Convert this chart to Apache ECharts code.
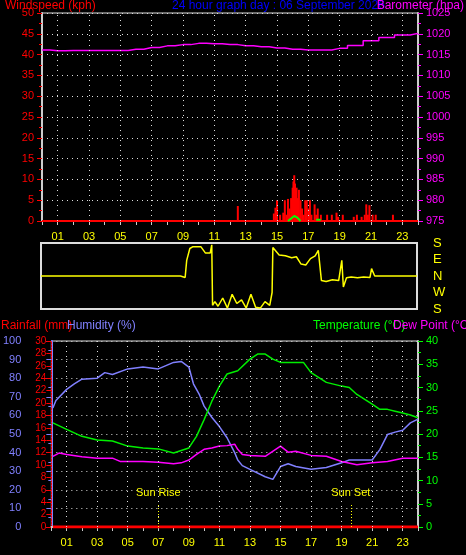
<!DOCTYPE html>
<html><head><meta charset="utf-8">
<script src="https://cdn.jsdelivr.net/npm/echarts@6/dist/echarts.min.js"></script>
<style>html,body{margin:0;background:#000}#c{width:466px;height:555px}</style>
</head><body><div id="c"></div>
<script>
// ---- data ----
const baroHours = [0,1,2,3,4,5,6,7,8,9,10,11,12,13,14,15,16,17,18,19,20,21,22,23,24];
const baroVals = [1016.1,1015.9,1016,1016,1016,1016,1016.3,1016.7,1017.1,1017.4,1017.7,1017.6,1017.4,1017.1,1016.9,1016.6,1016.3,1016.1,1016.1,1016.5,1017.2,1018.3,1019.1,1019.7,1020.1];
const gustHours = [12.5,14.8,14.9,15.0,15.2,15.4,15.5,15.6,15.7,15.8,15.9,16.0,16.05,16.1,16.15,16.2,16.25,16.3,16.4,16.5,16.6,16.7,16.8,16.9,17.0,17.1,17.2,17.4,17.5,17.6,17.8,18.2,18.5,18.8,18.9,19.2,19.9,20.1,20.4,20.6,20.7,20.8,20.9,21.1,21.3,22.4];
const gustVals = [3.6,1.8,3.2,5,1.5,2,5,1.5,5.3,3,5.5,8,9.5,11,9,7,8,5.5,7.5,5,3,1.5,5,5,3,5,1.5,4,1.5,3,1.5,1.5,1.5,2,1,1.5,1,1.5,1,1.5,4,1.5,3.8,1.5,1.5,1.5];
const avgHours = [15.7,15.9,16.1,16.3,16.5,16.6,17.5,17.6,17.8];
const avgVals = [0,0.6,1.2,0.8,0,null,0.3,0.4,0.3];
const dirHours = [0,8.9,9.0,9.2,9.3,9.5,9.7,10.2,10.5,10.8,10.9,10.95,11.1,11.3,11.6,11.9,12.2,12.5,12.8,13.1,13.4,13.7,14.0,14.3,14.6,14.75,14.8,15.2,15.6,16.0,16.3,16.6,16.9,17.2,17.5,17.7,17.9,18.2,18.6,19.0,19.2,19.3,19.5,19.8,20.2,20.6,21.0,21.1,21.3,24];
const dirVals = [0,0,-10,-8,85,150,160,160,125,125,170,-160,-140,-165,-120,-175,-100,-150,-130,-175,-100,-170,-175,-140,-160,-90,155,115,110,100,105,65,60,95,110,140,-25,-30,-20,-25,85,-60,-10,-5,-10,-5,-8,40,0,0];
const humHours = [0.1,0.3,1,1.5,2,3,3.5,4,5,6,7,8,8.5,9,9.3,9.7,10,10.5,11,11.5,12,12.2,12.5,13,14,14.5,15,15.5,16,17,18,19,19.5,20,21,21.5,22,22.5,23,23.5,24];
const humVals = [64,68,74,77,79.5,80,83,82,85,86,85,88.5,89,86,77,71,65,59,54,48,40,36,33,31,27,25.6,32.5,34,32.5,31,32,34.5,36,36,36,41.6,49.7,51,52,56,58];
const tempHours = [0.1,1,2,3,4,5,6,7,8,9,9.5,10,10.5,11,11.5,12.2,13,13.5,14,14.5,15,16,16.5,17,18,19,19.5,20,21,21.5,22,22.5,23,23.5,24];
const tempVals = [22.4,21,19.5,18.7,18.5,17.4,17,16.8,15.9,17,19.5,23.1,27,30.3,32.9,33.6,36.1,37.2,37.2,36.1,35.4,35.4,35.4,33.2,31.1,30.3,30,28.5,26.4,25.3,25.3,24.9,24.5,24.1,23.5];
const dewHours = [0.1,0.5,1,2,3,4,4.5,5,6,7,8,8.5,9,9.5,10,10.5,11,11.5,12,12.2,12.5,13,14,15,15.5,16,17,18,19,20,21,22,23,24];
const dewVals = [15.2,15.9,15.6,15.1,14.8,14.8,14.1,14.1,14.1,13.9,13.6,13.8,14.4,15.6,16.7,17,17.4,17.5,17.8,16.7,15.6,15.4,15.2,17.4,16.1,16.3,15.4,15.2,14.1,13.4,13.8,14.1,14.8,14.8];
const rainHours = [0.1,24];
const rainVals = [0,0];
const oddHours = [1,3,5,7,9,11,13,15,17,19,21,23];
const sunRise = 7.0, sunSet = 19.6;
const dirLabels = {'180':'S','90':'E','0':'N','-90':'W','-180':'S'};

const pairs = (h, v) => h.map((x, i) => [x, v[i]]);
const F = 'Liberation Sans';
const dot = {color:'#ddd', type:[1,4], width:1};
const vMark = {silent:true, symbol:'none', lineStyle:dot, label:{show:false}, data:oddHours.map(h => ({xAxis:h}))};
const xBase = (gi, showLabels) => ({
  type:'value', gridIndex:gi, min:0, max:24, interval:1,
  axisLine:{show:gi!==1, lineStyle:{color:'#ccc', width:2}},
  axisTick:{show:gi!==1, lineStyle:{color:'#ccc'}, length:4},
  axisLabel:{show:showLabels, color:'#ffff00', fontFamily:F, fontSize:11, margin:10,
    formatter:v => (v%2===1) ? String(v).padStart(2,'0') : ''},
  splitLine:{show:false}
});
const num = v => String(v);

const chart = echarts.init(document.getElementById('c'));
chart.setOption({
  backgroundColor:'#000',
  animation:false,
  textStyle:{fontFamily:F},
  grid:[
    {left:42, right:48, top:13, height:208, show:true, borderColor:'#ddd', borderWidth:1, backgroundColor:'#000'},
    {left:41, right:49, top:243, height:66, show:true, borderColor:'#ddd', borderWidth:2, backgroundColor:'#000'},
    {left:43, right:48, top:341, height:186, show:true, borderColor:'#ddd', borderWidth:1, backgroundColor:'#000'}
  ],
  graphic:[
    {type:'text', left:5, top:0, style:{text:'Windspeed (kph)', fill:'#ff0000', font:'12px '+F}},
    {type:'text', left:172, top:0, style:{text:'24 hour graph day : 06 September 2026', fill:'#0000ff', font:'12px '+F}},
    {type:'text', right:2, top:0, style:{text:'Barometer (hpa)', fill:'#ff00ff', font:'12px '+F}},
    {type:'text', left:1, top:320, style:{text:'Rainfall (mm)', fill:'#ff0000', font:'12px '+F}},
    {type:'text', left:67, top:320, style:{text:'Humidity (%)', fill:'#8080ff', font:'12px '+F}},
    {type:'text', left:313, top:320, style:{text:'Temperature (°C)', fill:'#00ff00', font:'12px '+F}},
    {type:'text', left:393, top:320, style:{text:'Dew Point (°C)', fill:'#ff00ff', font:'12px '+F}}
  ],
  xAxis:[xBase(0,true), xBase(1,false), xBase(2,true)],
  yAxis:[
    {type:'value', gridIndex:0, min:0, max:50, interval:5, position:'left',
      axisLine:{show:true, lineStyle:{color:'#ccc', width:2}},
      axisTick:{show:true, lineStyle:{color:'#ff0000'}}, minorTick:{show:true, splitNumber:2, lineStyle:{color:'#ff0000'}},
      axisLabel:{color:'#ff0000', fontFamily:F, fontSize:11, formatter:num},
      splitLine:{show:true, lineStyle:dot}},
    {type:'value', gridIndex:0, min:975, max:1025, interval:5, position:'right',
      axisLine:{show:true, lineStyle:{color:'#ccc', width:2}},
      axisTick:{show:true, lineStyle:{color:'#ff00ff'}}, minorTick:{show:true, splitNumber:2, lineStyle:{color:'#ff00ff'}},
      axisLabel:{color:'#ff00ff', fontFamily:F, fontSize:11, formatter:num},
      splitLine:{show:false}},
    {type:'value', gridIndex:1, min:-180, max:180, interval:90, position:'right',
      axisLine:{show:false}, axisTick:{show:false}, splitLine:{show:false},
      axisLabel:{color:'#ffff00', fontFamily:F, fontSize:13, margin:16, formatter:v => dirLabels[String(v)]}},
    {type:'value', gridIndex:2, min:0, max:100, interval:10, position:'left', offset:22,
      axisLine:{show:true, lineStyle:{color:'#8080ff', width:2}},
      axisTick:{show:true, lineStyle:{color:'#8080ff'}}, minorTick:{show:true, splitNumber:2, lineStyle:{color:'#8080ff'}},
      axisLabel:{color:'#8080ff', fontFamily:F, fontSize:11, formatter:num},
      splitLine:{show:true, lineStyle:dot}},
    {type:'value', gridIndex:2, min:0, max:30, interval:2, position:'left',
      axisLine:{show:true, lineStyle:{color:'#ff0000', width:1, type:[2,1]}},
      axisTick:{show:true, lineStyle:{color:'#ff0000'}},
      axisLabel:{color:'#ff0000', fontFamily:F, fontSize:10, margin:5, formatter:num},
      splitLine:{show:false}},
    {type:'value', gridIndex:2, min:0, max:40, interval:5, position:'right',
      axisLine:{show:true, lineStyle:{color:'#ccc', width:2}},
      axisTick:{show:true, lineStyle:{color:'#00ff00'}}, minorTick:{show:true, splitNumber:2, lineStyle:{color:'#00ff00'}},
      axisLabel:{color:'#00ff00', fontFamily:F, fontSize:11, formatter:num},
      splitLine:{show:false}}
  ],
  series:[
    {type:'line', xAxisIndex:0, yAxisIndex:0, data:pairs([0,24],[0,0]), symbol:'none', lineStyle:{color:'#ff0000', width:2}, markLine:vMark, z:1},
    {type:'bar', xAxisIndex:0, yAxisIndex:0, data:pairs(gustHours,gustVals), barWidth:2, itemStyle:{color:'#ff0000'}},
    {type:'line', xAxisIndex:0, yAxisIndex:0, data:pairs(avgHours,avgVals), symbol:'none', connectNulls:false, lineStyle:{color:'#00ff00', width:2}, z:3},
    {type:'line', xAxisIndex:0, yAxisIndex:1, data:pairs(baroHours,baroVals), symbol:'none', step:'middle', lineStyle:{color:'#ff00ff', width:1.5}},
    {type:'line', xAxisIndex:1, yAxisIndex:2, data:pairs(dirHours,dirVals), symbol:'none', lineStyle:{color:'#ffff00', width:1.5}},
    {type:'line', xAxisIndex:2, yAxisIndex:4, data:pairs(rainHours,rainVals), symbol:'none', lineStyle:{color:'#ff0000', width:3}, markLine:vMark},
    {type:'line', xAxisIndex:2, yAxisIndex:3, data:pairs(humHours,humVals), symbol:'none', lineStyle:{color:'#8080ff', width:1.5}},
    {type:'line', xAxisIndex:2, yAxisIndex:5, data:pairs(tempHours,tempVals), symbol:'none', lineStyle:{color:'#00ee00', width:1.5},
      markLine:{silent:true, symbol:'none', lineStyle:{color:'#ffff00', type:[1,2], width:1},
        label:{show:true, position:'end', color:'#ffff00', fontFamily:F, fontSize:11, formatter:p => p.data.name || ''},
        data:[[{coord:[sunRise,0], name:'Sun Rise'},{coord:[sunRise,5]}],[{coord:[sunSet,0], name:'Sun Set'},{coord:[sunSet,5]}]]}},
    {type:'line', xAxisIndex:2, yAxisIndex:5, data:pairs(dewHours,dewVals), symbol:'none', lineStyle:{color:'#ff00ff', width:1.5}}
  ]
});
</script></body></html>
